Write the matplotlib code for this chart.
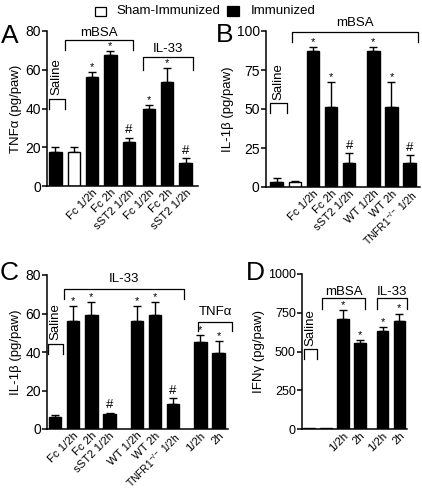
import matplotlib
matplotlib.use("Agg")
import matplotlib.pyplot as plt
from matplotlib.patches import Rectangle

plt.rcParams['font.family'] = ['Liberation Sans', 'DejaVu Sans']
plt.rcParams['mathtext.fontset'] = 'custom'
plt.rcParams['mathtext.rm'] = 'Liberation Sans'
plt.rcParams['mathtext.it'] = 'Liberation Sans:italic'
plt.rcParams['axes.linewidth'] = 1.1

# ---------------- data ----------------
a_pos = [0, 1, 2, 3, 4, 5.1, 6.1, 7.1]
a_vals = [17.5, 17.5, 56.5, 67.5, 22.5, 40, 53.5, 12]
a_errs = [2.5, 2.5, 2.5, 2, 2.5, 2, 7.5, 2.5]
a_fill = ['k', 'w', 'k', 'k', 'k', 'k', 'k', 'k']
a_marks = ['', '', '*', '*', '#', '*', '*', '#']
a_labels = ['', '', 'Fc 1/2h', 'Fc 2h', 'sST2 1/2h', 'Fc 1/2h', 'Fc 2h', 'sST2 1/2h']

b_pos = [0, 1, 2, 3, 4, 5.33, 6.33, 7.33]
b_vals = [3, 3, 87, 51, 15.5, 87, 51, 15.5]
b_errs = [3, 1, 3, 16, 6, 3, 16, 5]
b_fill = ['k', 'w', 'k', 'k', 'k', 'k', 'k', 'k']
b_marks = ['', '', '*', '*', '#', '*', '*', '#']
b_labels = ['', '', 'Fc 1/2h', 'Fc 2h', 'sST2 1/2h', 'WT 1/2h', 'WT 2h',
            'TNFR1$^{-/-}$ 1/2h']

c_pos = [0, 1, 2, 3, 4.5, 5.5, 6.5, 8, 9]
c_vals = [6, 56, 59, 8, 56, 59, 13, 45, 39.5]
c_errs = [1.5, 8, 7, 0.5, 8, 7, 3, 4, 6]
c_fill = ['k'] * 9
c_marks = ['', '*', '*', '#', '*', '*', '#', '*', '*']
c_labels = ['', 'Fc 1/2h', 'Fc 2h', 'sST2 1/2h', 'WT 1/2h', 'WT 2h',
            'TNFR1$^{-/-}$ 1/2h', '1/2h', '2h']

d_pos = [0, 1, 2, 3, 4.35, 5.35]
d_vals = [5, 5, 710, 555, 630, 695]
d_errs = [0, 0, 55, 20, 30, 50]
d_fill = ['k'] * 6
d_marks = ['', '', '*', '*', '*', '*']
d_labels = ['', '', '1/2h', '2h', '1/2h', '2h']

FS = 9

fig = plt.figure(figsize=(4.22, 4.92), dpi=100)

def panel(rect, pos, vals, errs, fill, marks, labels, ylim, yticks, ylabel,
          xlim, width, letter, letter_xy, ytick_fs=FS + 1):
    ax = fig.add_axes(rect)
    ax.bar(pos, vals, width=width, color=fill, edgecolor='k', linewidth=1.0,
           zorder=2)
    for p, v, e in zip(pos, vals, errs):
        if e > 0:
            ax.errorbar([p], [v], yerr=[[0], [e]], fmt='none', ecolor='k',
                        elinewidth=1.0, capsize=3, capthick=1.0, zorder=1)
    for p, v, e, m in zip(pos, vals, errs, marks):
        if m == '*':
            ax.annotate('*', (p, v + e), xytext=(0, 0), textcoords='offset points',
                        ha='center', va='bottom', fontsize=8)
        elif m == '#':
            ax.annotate('#', (p, v + e), xytext=(0, 1), textcoords='offset points',
                        ha='center', va='bottom', fontsize=9.5)
    ax.set_xlim(*xlim)
    ax.set_ylim(*ylim)
    ax.set_yticks(yticks)
    ax.tick_params(axis='y', labelsize=ytick_fs, length=3.5, width=1.1, pad=1)
    ax.set_xticks(pos)
    ax.set_xticklabels(labels, rotation=45, ha='right', rotation_mode='anchor',
                       fontsize=FS - 0.8)
    for t in ax.get_xticklabels():
        if 'TNFR1' in t.get_text():
            t.set_fontsize(FS - 1.6)
    ax.tick_params(axis='x', length=0, pad=1)
    ax.spines['top'].set_visible(False)
    ax.spines['right'].set_visible(False)
    ax.set_ylabel(ylabel, fontsize=FS + 0.5, labelpad=2)
    fig.text(letter_xy[0], letter_xy[1], letter, fontsize=19, ha='left',
             va='center')
    return ax

def bracket(ax, x0, x1, y, ytick, label=None, label_y=None, vertical=False,
            fs=FS + 0.5):
    ax.plot([x0, x0, x1, x1], [ytick, y, y, ytick], color='k', lw=0.9,
            clip_on=False, zorder=3)
    if label is not None:
        if vertical:
            ax.annotate(label, ((x0 + x1) / 2, y), xytext=(0, 2.5),
                        textcoords='offset points', rotation=90, ha='center',
                        va='bottom', fontsize=fs, annotation_clip=False)
        else:
            ax.text((x0 + x1) / 2, label_y, label, ha='center', va='center',
                    fontsize=fs, clip_on=False)

# Panel A
axA = panel([47 / 422, 1 - 186 / 492, 151 / 422, 155 / 492], a_pos, a_vals, a_errs,
            a_fill, a_marks, a_labels, (0, 80), [0, 20, 40, 60, 80],
            'TNF\u03b1 (pg/paw)', (-0.46, 7.78), 0.68, 'A', (1 / 422, 1 - 36 / 492))
bracket(axA, a_pos[0] - 0.36, a_pos[0] + 0.52, 45, 40, 'Saline', vertical=True)
bracket(axA, a_pos[1] - 0.48, a_pos[4] + 0.24, 75.4, 70.2, 'mBSA', 79)
bracket(axA, a_pos[5] - 0.32, a_pos[7] + 0.41, 66.6, 59.9, 'IL-33', 70.6)

# Panel B
axB = panel([266 / 422, 1 - 187 / 492, 154 / 422, 156 / 492], b_pos, b_vals, b_errs,
            b_fill, b_marks, b_labels, (0, 100), [0, 25, 50, 75, 100],
            'IL-1\u03b2 (pg/paw)', (-0.58, 7.9), 0.68, 'B', (216 / 422, 1 - 35 / 492))
bracket(axB, b_pos[0] - 0.36, b_pos[0] + 0.58, 53.8, 47.4, 'Saline', vertical=True)
bracket(axB, b_pos[1] - 0.15, b_pos[7] + 0.44, 99.4, 93, 'mBSA', 105)

# Panel C
axC = panel([47 / 422, 1 - 429 / 492, 181 / 422, 154 / 492], c_pos, c_vals, c_errs,
            c_fill, c_marks, c_labels, (0, 80), [0, 20, 40, 60, 80],
            'IL-1\u03b2 (pg/paw)', (-0.44, 9.52), 0.68, 'C', (0 / 422, 1 - 273 / 492))
bracket(axC, c_pos[0] - 0.39, c_pos[0] + 0.44, 44.2, 39, 'Saline', vertical=True)
bracket(axC, c_pos[1] - 0.5, c_pos[6] + 0.6, 72.7, 67.5, 'IL-33', 77.9)
bracket(axC, c_pos[7] - 0.13, c_pos[8] + 0.74, 55.6, 51, 'TNF\u03b1', 60.6)

# Panel D
axD = panel([302 / 422, 1 - 429 / 492, 105 / 422, 155 / 492], d_pos, d_vals, d_errs,
            d_fill, d_marks, d_labels, (0, 1000), [0, 250, 500, 750, 1000],
            'IFN\u03b3 (pg/paw)', (-0.42, 5.8), 0.69, 'D', (246 / 422, 1 - 273 / 492),
            ytick_fs=FS)
bracket(axD, d_pos[0] - 0.3, d_pos[0] + 0.48, 516, 452, 'Saline', vertical=True)
bracket(axD, d_pos[1] - 0.22, d_pos[3] + 0.34, 845, 774, 'mBSA', 886)
bracket(axD, d_pos[4] - 0.35, d_pos[5] + 0.45, 845, 774, 'IL-33', 886)

# Legend
fig.patches.append(Rectangle((95 / 422, 1 - 16 / 492), 11 / 422, 9 / 492,
                             transform=fig.transFigure, facecolor='w',
                             edgecolor='k', lw=0.9))
fig.text(116 / 422, 1 - 11 / 492, 'Sham-Immunized', fontsize=FS + 0.5,
         ha='left', va='center')
fig.patches.append(Rectangle((227 / 422, 1 - 16 / 492), 12 / 422, 10 / 492,
                             transform=fig.transFigure, facecolor='k',
                             edgecolor='k', lw=0.9))
fig.text(251 / 422, 1 - 11 / 492, 'Immunized', fontsize=FS + 0.5,
         ha='left', va='center')

fig.savefig('out.png', dpi=100)
